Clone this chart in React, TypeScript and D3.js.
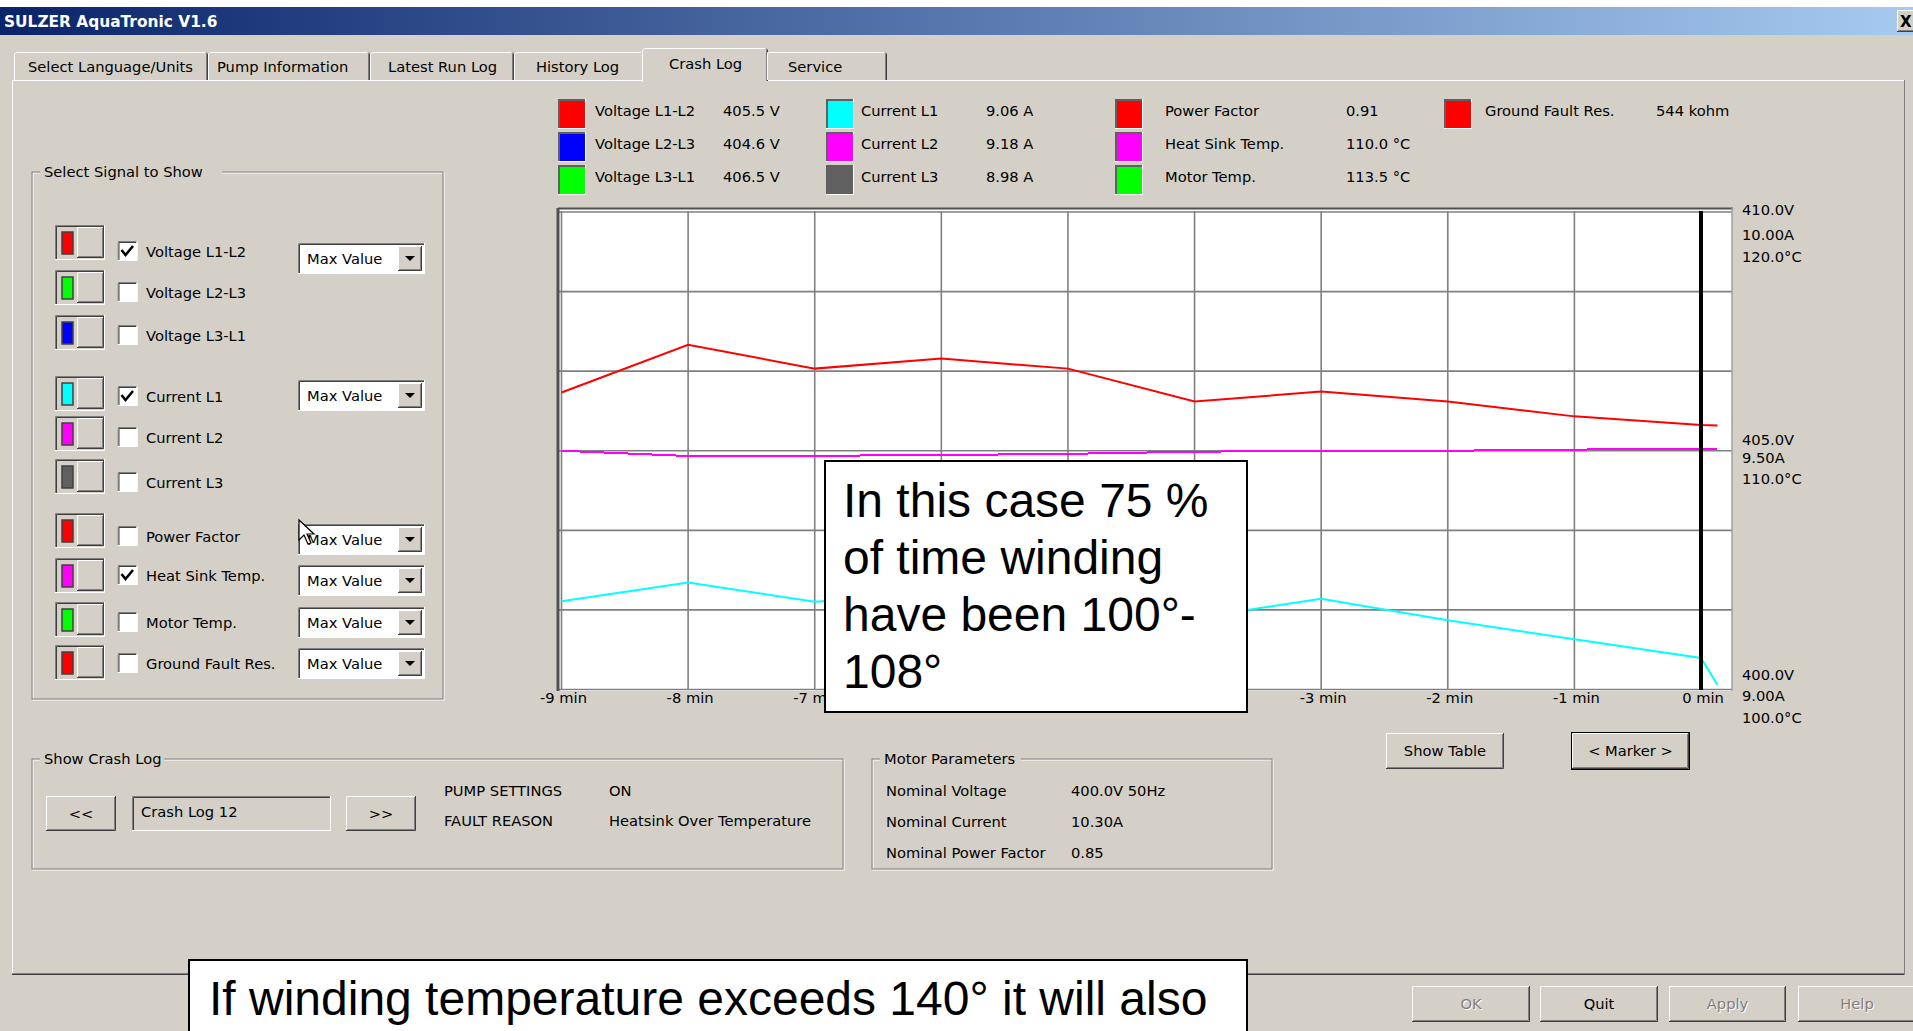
import React from 'react';
import * as d3 from 'd3';

// crash log samples (minutes before the crash)
const minutes = [-9, -8, -7, -6, -5, -4, -3, -2, -1, 0, 0.13];
const voltageL1L2 = [406.22, 407.22, 406.72, 406.93, 406.72, 406.03, 406.24, 406.03, 405.72, 405.54, 405.53];
const currentL1 = [9.185, 9.224, 9.184, 9.2, 9.18, 9.15, 9.19, 9.145, 9.105, 9.066, 9.01];
const heatSinkTemp = [110.0, 109.78, 109.79, 109.82, 109.87, 109.96, 110.0, 110.0, 110.05, 110.07, 110.07];

const xTicks = [-9, -8, -7, -6, -5, -4, -3, -2, -1, 0];
const voltTicks = [400, 405, 410];
const ampTicks = [9, 9.5, 10];
const tempTicks = [100, 110, 120];

const legendNames = [
  ['Voltage L1-L2', 'Voltage L2-L3', 'Voltage L3-L1'],
  ['Current L1', 'Current L2', 'Current L3'],
  ['Power Factor', 'Heat Sink Temp.', 'Motor Temp.'],
  ['Ground Fault Res.'],
];
const legendValues = [
  ['405.5 V', '404.6 V', '406.5 V'],
  ['9.06 A', '9.18 A', '8.98 A'],
  ['0.91', '110.0 °C', '113.5 °C'],
  ['544 kohm'],
];
const legendColors = [
  ['#ff0000', '#0000ff', '#00ff00'],
  ['#00ffff', '#ff00ff', '#606060'],
  ['#ff0000', '#ff00ff', '#00ff00'],
  ['#ff0000'],
];

const signalNames = ['Voltage L1-L2', 'Voltage L2-L3', 'Voltage L3-L1', 'Current L1', 'Current L2', 'Current L3',
  'Power Factor', 'Heat Sink Temp.', 'Motor Temp.', 'Ground Fault Res.'];
const signalColors = ['#ff0000', '#00ff00', '#0000ff', '#00ffff', '#ff00ff', '#606060', '#ff0000', '#ff00ff', '#00ff00', '#ff0000'];
const signalChecked = [true, false, false, true, false, false, false, true, false, false];
const signalMode = ['Max Value', '', '', 'Max Value', '', '', 'Max Value', 'Max Value', 'Max Value', 'Max Value'];

const tabNames = ['Select Language/Units', 'Pump Information', 'Latest Run Log', 'History Log', 'Crash Log', 'Service'];
const crashLogName = 'Crash Log 12';
const crashInfoNames = ['PUMP SETTINGS', 'FAULT REASON'];
const crashInfoValues = ['ON', 'Heatsink Over Temperature'];
const motorParamNames = ['Nominal Voltage', 'Nominal Current', 'Nominal Power Factor'];
const motorParamValues = ['400.0V 50Hz', '10.30A', '0.85'];
const noteLines = ['In this case 75 %', 'of time winding', 'have been 100°-', '108°'];
const noteBottom = 'If winding temperature exceeds 140° it will also';

// layout
const W = 1913;
const H = 1031;
const BG = '#D4D0C8';
const FONT = '"DejaVu Sans", Verdana, sans-serif';
const FS = 14.7;
const tabEdges = [14, 208, 370, 514, 644, 767, 887];
const tabTextX = [28, 217, 388, 536, 669, 788];
const legendColX = [558, 826, 1115, 1444];
const legendLabelX = [595, 861, 1165, 1485];
const legendValueX = [723, 986, 1346, 1656];
const legendTop = [99, 132, 165];
const rowTextY = [251, 292, 335, 396, 437, 482, 536, 575, 622, 663];
const rowToggleTop = [225, 270, 315, 376, 416, 459, 513, 558, 602, 645];
const rowDropTop = [243, 0, 0, 380, 0, 0, 524, 565, 607, 648];
const rightLabelOffsets = [[-14.5, 6.5, 28], [-10.5, 7.5, 28.5], [-2.5, 22.5, 44.5]];

const Raised = ({ x, y, w, h }) => (
  <g>
    <rect x={x} y={y} width={w} height={h} fill={BG} />
    <polyline points={`${x + 0.5},${y + h} ${x + 0.5},${y + 0.5} ${x + w},${y + 0.5}`} fill="none" stroke="#fff" />
    <polyline points={`${x},${y + h - 0.5} ${x + w - 0.5},${y + h - 0.5} ${x + w - 0.5},${y}`} fill="none" stroke="#404040" />
    <polyline points={`${x + 1},${y + h - 1.5} ${x + w - 1.5},${y + h - 1.5} ${x + w - 1.5},${y + 1}`} fill="none" stroke="#808080" />
  </g>
);

const Sunken = ({ x, y, w, h, fill = '#fff' }) => (
  <g>
    <rect x={x} y={y} width={w} height={h} fill={fill} />
    <polyline points={`${x + 0.5},${y + h} ${x + 0.5},${y + 0.5} ${x + w},${y + 0.5}`} fill="none" stroke="#808080" />
    <polyline points={`${x + 1.5},${y + h - 1} ${x + 1.5},${y + 1.5} ${x + w - 1},${y + 1.5}`} fill="none" stroke="#404040" />
    <polyline points={`${x},${y + h - 0.5} ${x + w - 0.5},${y + h - 0.5} ${x + w - 0.5},${y}`} fill="none" stroke="#fff" />
  </g>
);

const GroupBox = ({ x, y, w, h, title }) => (
  <g>
    <rect x={x + 1} y={y + 1} width={w} height={h} fill="none" stroke="#fff" />
    <rect x={x} y={y} width={w} height={h} fill="none" stroke="#808080" />
    <rect x={x + 8} y={y - 9} width={title.length * 8.3 + 8} height={18} fill={BG} />
    <text x={x + 12} y={y + 5} fontSize={FS} fontFamily={FONT}>{title}</text>
  </g>
);

const Button = ({ x, y, w, h, label, disabled = false, def = false }) => (
  <g>
    {def && <rect x={x - 1} y={y - 1} width={w + 2} height={h + 2} fill="#000" />}
    <Raised x={x} y={y} w={w} h={h} />
    {disabled && (
      <text x={x + w / 2 + 1} y={y + h / 2 + 6} textAnchor="middle" fontSize={FS} fontFamily={FONT} fill="#fff">{label}</text>
    )}
    <text x={x + w / 2} y={y + h / 2 + 5} textAnchor="middle" fontSize={FS} fontFamily={FONT}
      fill={disabled ? '#808080' : '#000'}>{label}</text>
  </g>
);

const Dropdown = ({ x, y, label }) => (
  <g>
    <Sunken x={x} y={y} w={127} h={31} />
    <Raised x={x + 100} y={y + 3} w={24} h={25} />
    <polygon points={`${x + 107},${y + 13} ${x + 117},${y + 13} ${x + 112},${y + 18}`} fill="#000" />
    <text x={x + 9} y={y + 21} fontSize={FS} fontFamily={FONT}>{label}</text>
  </g>
);

const App = () => {
  const x = d3.scaleLinear().domain([-9, 0]).range([561.5, 1701]);
  const yV = d3.scaleLinear().domain([400, 410]).range([689.5, 212]);
  const yA = d3.scaleLinear().domain([9, 10]).range([689.5, 212]);
  const yT = d3.scaleLinear().domain([100, 120]).range([689.5, 212]);
  const gridV = d3.range(7).map(i => 400 + (i * 10) / 6);

  const lineOf = (scale) => d3.line<number>().x((_, i) => x(minutes[i])).y(d => scale(d));
  const plotL = 558, plotR = 1732, plotT = 208, plotB = 691;

  return (
    <div style={{ position: 'absolute', left: 0, top: 0 }}>
      <svg width={W} height={H} style={{ display: 'block' }}>
        <defs>
          <linearGradient id="tb" x1="0" x2="1" y1="0" y2="0">
            <stop offset="0" stopColor="#0A246A" />
            <stop offset="1" stopColor="#A6CAF0" />
          </linearGradient>
        </defs>
        <rect width={W} height={H} fill={BG} />
        <rect width={W} height={7} fill="#fff" />
        {/* title bar */}
        <rect x={0} y={7} width={W} height={28} fill="url(#tb)" />
        <text x={4} y={27} fill="#fff" fontWeight="bold" fontSize={15.4} fontFamily={FONT}>SULZER AquaTronic V1.6</text>
        <Raised x={1897} y={10} w={20} h={22} />
        <text x={1900} y={27} fontWeight="bold" fontSize={15} fontFamily={FONT}>X</text>

        {/* tab panel */}
        <line x1={12} x2={1905} y1={80.5} y2={80.5} stroke="#fff" />
        <line x1={12.5} x2={12.5} y1={80} y2={975} stroke="#fff" />
        <line x1={12} x2={1905} y1={973.5} y2={973.5} stroke="#808080" />
        <line x1={12} x2={1905} y1={974.5} y2={974.5} stroke="#404040" />
        <line x1={1904.5} x2={1904.5} y1={80} y2={975} stroke="#808080" />
        {tabNames.map((name, i) => {
          const sel = name === 'Crash Log';
          const x0 = tabEdges[i] - (sel ? 2 : 0);
          const x1 = tabEdges[i + 1] + (sel ? 1 : 0);
          const top = sel ? 48 : 52;
          return (
            <g key={name}>
              <rect x={x0} y={top} width={x1 - x0} height={(sel ? 82 : 80) - top} fill={BG} />
              <polyline points={`${x0 + 0.5},${sel ? 82 : 80} ${x0 + 0.5},${top + 2} ${x0 + 2.5},${top + 0.5} ${x1 - 2},${top + 0.5}`}
                fill="none" stroke="#fff" />
              <polyline points={`${x1 - 1.5},${top + 2} ${x1 - 1.5},${sel ? 81 : 80}`} fill="none" stroke="#808080" />
              <polyline points={`${x1 - 2},${top + 0.5} ${x1 - 0.5},${top + 2} ${x1 - 0.5},${sel ? 81 : 80}`} fill="none" stroke="#404040" />
              <text x={tabTextX[i]} y={sel ? 69 : 72} fontSize={FS} fontFamily={FONT}>{name}</text>
            </g>
          );
        })}

        {/* legend with latest values */}
        {legendNames.map((col, c) => col.map((name, r) => (
          <g key={name}>
            <rect x={legendColX[c]} y={legendTop[r]} width={27} height={29} fill={legendColors[c][r]} />
            <polyline points={`${legendColX[c] + 1},${legendTop[r] + 29} ${legendColX[c] + 1},${legendTop[r] + 1} ${legendColX[c] + 27},${legendTop[r] + 1}`}
              fill="none" stroke="#606060" strokeWidth={2} />
            <polyline points={`${legendColX[c]},${legendTop[r] + 29.5} ${legendColX[c] + 27.5},${legendTop[r] + 29.5} ${legendColX[c] + 27.5},${legendTop[r]}`}
              fill="none" stroke="#fff" />
            <text x={legendLabelX[c]} y={legendTop[r] + 17} fontSize={FS} fontFamily={FONT}>{name}</text>
            <text x={legendValueX[c]} y={legendTop[r] + 17} fontSize={FS} fontFamily={FONT}>{legendValues[c][r]}</text>
          </g>
        )))}

        {/* signal selection */}
        <GroupBox x={32} y={172} w={411} h={527} title="Select Signal to Show" />
        {signalNames.map((name, i) => {
          const ty = rowTextY[i];
          const tt = rowToggleTop[i];
          return (
            <g key={name}>
              <Sunken x={55} y={tt} w={50} h={35} fill={BG} />
              <rect x={62} y={tt + 7} width={11} height={22} fill={signalColors[i]} stroke="#404040" strokeWidth={1.5} />
              <Raised x={77} y={tt + 2} w={27} h={31} />
              <Sunken x={117.5} y={ty - 10} w={20} h={20} />
              {signalChecked[i] && (
                <polyline points={`${121.5},${ty - 1} ${125.5},${ty + 4} ${133},${ty - 5}`} fill="none" stroke="#000" strokeWidth={2.6} />
              )}
              <text x={146} y={ty + 6} fontSize={FS} fontFamily={FONT}>{name}</text>
              {signalMode[i] && <Dropdown x={298} y={rowDropTop[i]} label={signalMode[i]} />}
            </g>
          );
        })}
        {/* mouse pointer */}
        <polygon points="299,520 299,540 304,535 308,544 311,543 307,534 314,534" fill="#fff" stroke="#000" strokeWidth={1.2} />

        {/* plot area */}
        <rect x={plotL} y={plotT} width={plotR - plotL} height={plotB - plotT} fill="#fff" />
        {xTicks.map(t => (
          <line key={t} x1={x(t)} x2={x(t)} y1={plotT + 3} y2={plotB - 1} stroke="#808080" strokeWidth={1.6} />
        ))}
        {gridV.map(v => (
          <line key={v} x1={plotL} x2={plotR} y1={yV(v)} y2={yV(v)} stroke="#808080" strokeWidth={1.6} />
        ))}
        <line x1={plotL} x2={plotR + 1} y1={plotT + 0.5} y2={plotT + 0.5} stroke="#505050" strokeWidth={2} />
        <line x1={plotL} x2={plotL} y1={plotT} y2={plotB} stroke="#505050" strokeWidth={3} />
        <line x1={plotR} x2={plotR} y1={plotT} y2={plotB} stroke="#a0a0a0" strokeWidth={1.5} />

        <path d={lineOf(yT)(heatSinkTemp) || ''} fill="none" stroke="#ff00ff" strokeWidth={2} shapeRendering="crispEdges" />
        <path d={lineOf(yV)(voltageL1L2) || ''} fill="none" stroke="#ff0000" strokeWidth={2} />
        <path d={lineOf(yA)(currentL1) || ''} fill="none" stroke="#00ffff" strokeWidth={2} />
        {/* marker */}
        <line x1={x(0)} x2={x(0)} y1={plotT + 3} y2={plotB - 1} stroke="#000" strokeWidth={4} />

        {xTicks.map(t => (
          <text key={t} x={x(t) + 2} y={703} textAnchor="middle" fontSize={FS} fontFamily={FONT}>{`${t} min`}</text>
        ))}
        {voltTicks.map((v, i) => (
          <g key={v}>
            <text x={1742} y={yV(v) + rightLabelOffsets[i][0] + 5} fontSize={FS} fontFamily={FONT}>{`${v.toFixed(1)}V`}</text>
            <text x={1742} y={yA(ampTicks[i]) + rightLabelOffsets[i][1] + 5} fontSize={FS} fontFamily={FONT}>{`${ampTicks[i].toFixed(2)}A`}</text>
            <text x={1742} y={yT(tempTicks[i]) + rightLabelOffsets[i][2] + 5} fontSize={FS} fontFamily={FONT}>{`${tempTicks[i].toFixed(1)}°C`}</text>
          </g>
        ))}

        <Button x={1386} y={733} w={118} h={36} label="Show Table" />
        <Button x={1572} y={733} w={117} h={36} label="< Marker >" def />

        {/* crash log selection */}
        <GroupBox x={32} y={759} w={811} h={110} title="Show Crash Log" />
        <Button x={46} y={796} w={70} h={35} label="<<" />
        <Sunken x={132} y={796} w={199} h={35} fill={BG} />
        <text x={141} y={817} fontSize={FS} fontFamily={FONT}>{crashLogName}</text>
        <Button x={346} y={796} w={70} h={35} label=">>" />
        {crashInfoNames.map((n, i) => (
          <g key={n}>
            <text x={444} y={796 + i * 30} fontSize={FS} fontFamily={FONT}>{n}</text>
            <text x={609} y={796 + i * 30} fontSize={FS} fontFamily={FONT}>{crashInfoValues[i]}</text>
          </g>
        ))}

        <GroupBox x={872} y={759} w={400} h={110} title="Motor Parameters" />
        {motorParamNames.map((n, i) => (
          <g key={n}>
            <text x={886} y={796 + i * 31} fontSize={FS} fontFamily={FONT}>{n}</text>
            <text x={1071} y={796 + i * 31} fontSize={FS} fontFamily={FONT}>{motorParamValues[i]}</text>
          </g>
        ))}

        <Button x={1412} y={986} w={118} h={36} label="OK" disabled />
        <Button x={1540} y={986} w={118} h={36} label="Quit" />
        <Button x={1669} y={986} w={117} h={36} label="Apply" disabled />
        <Button x={1798} y={986} w={118} h={36} label="Help" disabled />

        {/* annotation boxes */}
        <rect x={825} y={461} width={422} height={251} fill="#fff" stroke="#000" strokeWidth={2} />
        {noteLines.map((l, i) => (
          <text key={l} x={843} y={517 + i * 57} fontSize={48} fontFamily='"Liberation Sans", Arial, sans-serif'>{l}</text>
        ))}
        <rect x={189} y={960} width={1058} height={80} fill="#fff" stroke="#000" strokeWidth={2} />
        <text x={209} y={1015} fontSize={48} fontFamily='"Liberation Sans", Arial, sans-serif'>{noteBottom}</text>
      </svg>
    </div>
  );
};

export default App;
